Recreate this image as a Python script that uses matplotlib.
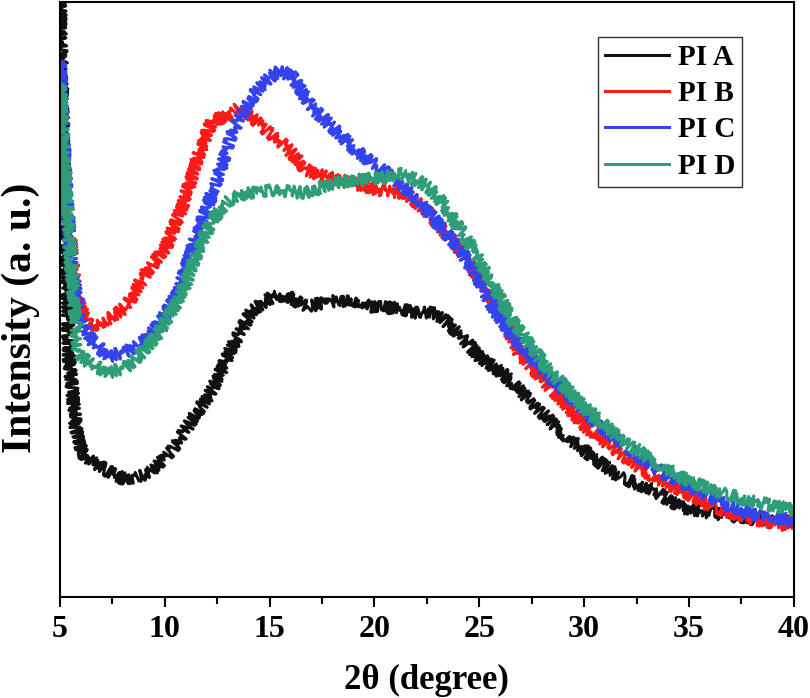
import matplotlib
matplotlib.use("Agg")
import matplotlib.pyplot as plt
from matplotlib.ticker import MultipleLocator

plt.rcParams["font.family"] = ["Liberation Serif", "DejaVu Serif"]
plt.rcParams["font.weight"] = "bold"

# XRD patterns (intensity in arbitrary units)
x_a = [5.0, 5.19, 5.43, 5.76, 6.05, 6.6, 7.2, 8.15, 9.25, 10.35, 11.3, 12.26, 13.2,
       14.17, 15.12, 15.8, 16.75, 17.5, 18.3, 19.1, 19.9, 21.0, 22.0, 22.96, 24.2,
       25.0, 26.1, 27.06, 28.2, 29.17, 30.4, 31.7, 33.3, 34.56, 36.1, 37.76, 39.3, 40.0]
y_a = [600, 420, 240, 170, 144, 135, 127, 117, 124, 147, 177, 207, 250,
       287, 300, 302, 290, 294, 297, 295, 290, 289, 284, 284, 260,
       240, 224, 204, 180, 160, 140, 120, 107, 90, 84, 79, 75, 75]

x_b = [5.0, 5.3, 5.76, 6.4, 7.2, 8.15, 9.1, 10.06, 10.83, 11.64, 12.26, 12.93, 13.55,
       14.17, 14.84, 15.8, 16.75, 17.7, 18.95, 20.23, 21.5, 22.6, 23.4, 24.2, 25.0,
       26.0, 26.9, 28.5, 30.1, 31.7, 33.3, 34.9, 36.1, 37.76, 39.3, 40.0]
y_b = [514, 397, 300, 270, 277, 290, 324, 350, 390, 444, 477, 480, 490,
       480, 467, 450, 427, 420, 414, 407, 404, 384, 364, 344, 319,
       282, 244, 207, 170, 144, 120, 104, 90, 80, 72, 75]

x_c = [5.0, 5.29, 5.57, 6.0, 6.5, 7.34, 8.3, 9.1, 9.87, 10.7, 11.16, 11.8, 12.6,
       13.2, 13.9, 14.5, 15.46, 16.1, 17.0, 18.0, 18.95, 19.9, 20.86, 21.8, 22.6,
       23.4, 24.2, 25.0, 25.8, 27.4, 29.0, 30.6, 32.2, 33.75, 35.4, 36.95, 38.5, 40.0]
y_c = [537, 410, 324, 282, 257, 240, 247, 257, 277, 307, 340, 377, 424,
       464, 490, 510, 527, 520, 490, 470, 450, 434, 420, 402, 384,
       364, 344, 317, 284, 240, 207, 174, 147, 124, 107, 90, 80, 77]

x_d = [5.0, 5.43, 5.76, 5.9, 6.4, 7.34, 8.15, 8.9, 9.7, 10.83, 11.0, 11.64, 12.26,
       13.07, 13.9, 15.1, 16.75, 18.0, 19.3, 20.6, 21.05, 21.8, 22.6, 23.4, 24.2,
       25.0, 26.6, 28.2, 29.8, 31.4, 33.0, 34.56, 36.1, 37.76, 40.0]
y_d = [514, 357, 274, 244, 234, 224, 230, 244, 264, 304, 314, 350, 377,
       397, 404, 407, 404, 414, 417, 420, 424, 419, 410, 390, 364,
       337, 275, 230, 194, 164, 140, 120, 107, 97, 87]

labels = ["PI A", "PI B", "PI C", "PI D"]
colors = ["#111111", "#ff1a1a", "#3344ee", "#2e9e78"]

fig = plt.figure(figsize=(8.1, 6.98), dpi=100)
ax = fig.add_axes([0.074, 0.1447, 0.906, 0.8524])

series = [(x_a, y_a), (x_b, y_b), (x_c, y_c), (x_d, y_d)]
for (xs, ys), lab, col in zip(series, labels, colors):
    line, = ax.plot(xs, ys, color=col, lw=2.2, label=lab)
    # noisy look of the raw scan
    line.set_sketch_params(scale=6, length=1.2, randomness=2)

ax.set_xlim(5, 40)
ax.set_ylim(0, 595)

ax.xaxis.set_major_locator(MultipleLocator(5))
ax.xaxis.set_minor_locator(MultipleLocator(2.5))
ax.tick_params(axis="x", which="major", direction="out", length=7, width=1.5,
               labelsize=23, pad=6)
ax.tick_params(axis="x", which="minor", direction="out", length=5, width=1.5)
ax.set_yticks([])

for s in ax.spines.values():
    s.set_linewidth(1.5)

ax.set_xlabel("2θ (degree)", fontsize=25, fontweight="bold", labelpad=14)
ax.set_ylabel("Intensity (a. u.)", fontsize=30, fontweight="bold")
ax.yaxis.set_label_coords(-0.027, 0.469)

leg = ax.legend(loc="upper right", bbox_to_anchor=(0.93, 0.942), fontsize=21,
                frameon=True, fancybox=False, edgecolor="black", handlelength=2.2,
                labelspacing=0.32, borderpad=0.25, handletextpad=0.3,
                borderaxespad=0)
leg.get_frame().set_linewidth(1.0)
for h in leg.get_lines():
    h.set_sketch_params(None)
    h.set_linewidth(2.2)

fig.savefig("out.png", dpi=100)
